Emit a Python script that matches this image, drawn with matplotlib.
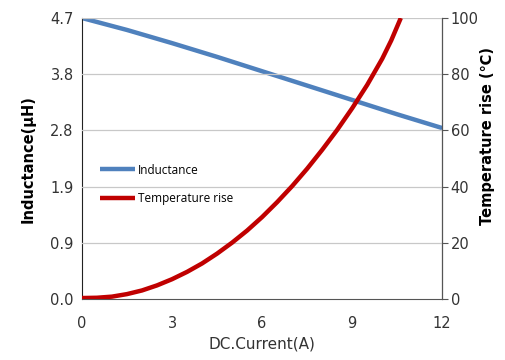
import numpy as np
from matplotlib import pyplot as plt

# 데이터
current_L = [0, 1.5, 3, 4.5, 6, 7.5, 9, 10.5, 12]
inductance = [4.70, 4.50, 4.28, 4.05, 3.81, 3.57, 3.33, 3.09, 2.86]

current_T = [0, 0.5, 1, 1.5, 2, 2.5, 3, 3.5, 4, 4.5, 5, 5.5, 6, 6.5, 7,
             7.5, 8, 8.5, 9, 9.5, 10, 10.3, 10.62]
temp_rise = [0.4, 0.5, 0.9, 1.8, 3.1, 4.9, 7.1, 9.7, 12.7, 16.2, 20.1, 24.4,
             29.2, 34.5, 40.2, 46.4, 53.1, 60.2, 67.9, 76.2, 85.5, 92.0, 100.0]

x_ticks = [0, 3, 6, 9, 12]
left_ticks = [0.0, 0.94, 1.88, 2.82, 3.76, 4.7]
left_labels = ['0.0', '0.9', '1.9', '2.8', '3.8', '4.7']
right_ticks = [0, 20, 40, 60, 80, 100]

tick_font = ['Liberation Sans Narrow', 'DejaVu Sans']

fig = plt.figure(figsize=(5.06, 3.6), dpi=100)
ax = fig.add_axes([0.162, 0.169, 0.712, 0.781])
ax2 = ax.twinx()

# 격자선
for t in right_ticks[1:]:
    ax2.axhline(t, color='#c8c8c8', lw=0.9, zorder=0)

l1, = ax.plot(current_L, inductance, color='#4f81bd', lw=3.2, label='Inductance',
              solid_capstyle='butt')
l2, = ax2.plot(current_T, temp_rise, color='#c00000', lw=3.2, label='Temperature rise',
               solid_capstyle='butt')

ax.set_xlim(0, 12)
ax.set_ylim(0, 4.7)
ax2.set_ylim(0, 100)

ax.set_xticks(x_ticks)
ax.set_xticklabels([str(v) for v in x_ticks], family=tick_font, fontsize=10.5, color='#333333')
ax.set_yticks(left_ticks)
ax.set_yticklabels(left_labels, family=tick_font, fontsize=10.5, color='#333333')
ax2.set_yticks(right_ticks)
ax2.set_yticklabels([str(v) for v in right_ticks], family=tick_font, fontsize=10.5, color='#333333')

ax.tick_params(axis='x', length=0, pad=12)
ax.tick_params(axis='y', length=0, pad=6)
ax2.tick_params(axis='y', length=4, width=0.8, color='#555555', pad=2)

ax.spines['top'].set_visible(False)
ax2.spines['top'].set_visible(False)
ax.spines['left'].set_color('#222222')
ax.spines['bottom'].set_color('#555555')
ax2.spines['left'].set_visible(False)
ax2.spines['bottom'].set_visible(False)
ax2.spines['right'].set_color('#555555')

ax.set_xlabel('DC.Current(A)', family=tick_font, fontsize=11, color='#333333', labelpad=4)
ax.set_ylabel('Inductance(μH)', fontsize=10.5, fontweight='bold')
ax.yaxis.set_label_coords(-0.13, 0.5)
ax2.set_ylabel('Temperature rise (℃)', family=['DejaVu Sans', 'Noto Sans CJK SC'],
               fontsize=10.5, fontweight='bold')
ax2.yaxis.set_label_coords(1.105, 0.58)

ax.legend([l1, l2], ['Inductance', 'Temperature rise'], loc='upper left',
          bbox_to_anchor=(0.02, 0.52), frameon=False, handlelength=3.0,
          handletextpad=0.2, labelspacing=1.3, prop={'family': 'Open Sans', 'size': 8.5})

fig.savefig('out.png', dpi=100)
